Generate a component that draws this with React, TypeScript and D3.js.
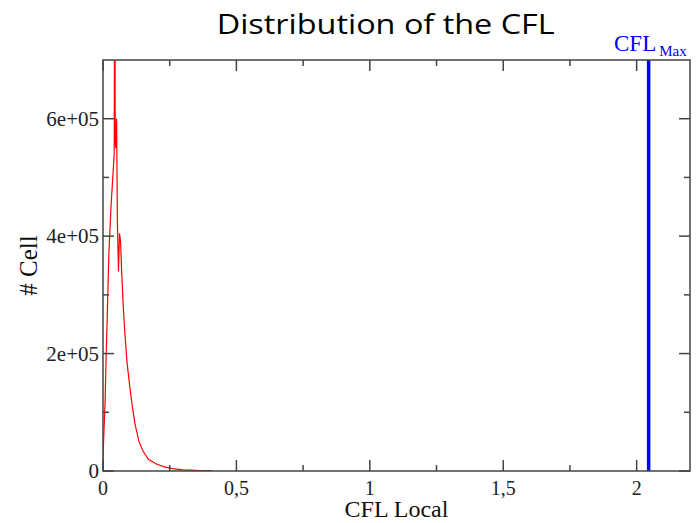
import React from "react";
import * as d3 from "d3";

const cflValues = [0, 0.001, 0.003, 0.008, 0.012, 0.016, 0.022, 0.03, 0.038, 0.042, 0.044, 0.046, 0.048, 0.051, 0.054, 0.058, 0.062, 0.066, 0.07, 0.076, 0.082, 0.09, 0.1, 0.11, 0.12, 0.135, 0.15, 0.17, 0.2, 0.23, 0.26, 0.3, 0.35, 0.41];
const cellCounts = [0, 35000, 60000, 120000, 200000, 265000, 370000, 450000, 510000, 540000, 900000, 560000, 550000, 600000, 420000, 340000, 405000, 390000, 340000, 280000, 235000, 185000, 145000, 110000, 80000, 50000, 34000, 20000, 12000, 7000, 4000, 2000, 1000, 500];
const cflMax = 2.045;

const xMajorTicks = [0, 0.5, 1, 1.5, 2];
const xTickLabels = ["0", "0,5", "1", "1,5", "2"];
const xMinorTicks = [0.25, 0.75, 1.25, 1.75];
const yMajorTicks = [0, 200000, 400000, 600000];
const yTickLabels = ["0", "2e+05", "4e+05", "6e+05"];
const yMinorTicks = [100000, 300000, 500000];

const W = 699, H = 523;
const L = 103, R = 690, T = 60, B = 471;

export default function App() {
  const x = d3.scaleLinear().domain([0, 2.2]).range([L, R]);
  const y = d3.scaleLinear().domain([0, 700000]).range([B, T]);
  const pts: [number, number][] = cflValues.map((v, i) => [v, cellCounts[i]]);
  const line = d3.line<[number, number]>().x(d => x(d[0])).y(d => y(d[1]));
  const serif = "'Liberation Serif', 'Times New Roman', serif";
  const axisColor = "#444";
  const major = 11, minor = 6;
  return (
    <svg width={W} height={H} style={{ position: "absolute", left: 0, top: 0, background: "#fff" }}>
      <defs>
        <clipPath id="plot"><rect x={L} y={T} width={R - L} height={B - T} /></clipPath>
      </defs>
      <rect x={0} y={0} width={W} height={H} fill="#fff" />
      <text x={385.7} y={34} textAnchor="middle" fontFamily="'Open Sans', 'Noto Sans', sans-serif" fontSize={28} fill="#000" textLength={338} lengthAdjust="spacingAndGlyphs">Distribution of the CFL</text>
      <path d={line(pts) || ""} fill="none" stroke="#ff0000" strokeWidth={1.2} clipPath="url(#plot)" />
      <line x1={x(cflMax)} x2={x(cflMax)} y1={T} y2={B} stroke="#0000ff" strokeWidth={3.5} />
      <rect x={L} y={T} width={R - L} height={B - T} fill="none" stroke={axisColor} strokeWidth={1.5} />
      {xMajorTicks.map(t => (
        <g key={"xM" + t}>
          <line x1={x(t)} x2={x(t)} y1={B} y2={B - major} stroke={axisColor} strokeWidth={1.5} />
          <line x1={x(t)} x2={x(t)} y1={T} y2={T + major} stroke={axisColor} strokeWidth={1.5} />
        </g>
      ))}
      {xMinorTicks.map(t => (
        <g key={"xm" + t}>
          <line x1={x(t)} x2={x(t)} y1={B} y2={B - minor} stroke={axisColor} strokeWidth={1.5} />
          <line x1={x(t)} x2={x(t)} y1={T} y2={T + minor} stroke={axisColor} strokeWidth={1.5} />
        </g>
      ))}
      {yMajorTicks.map(t => (
        <g key={"yM" + t}>
          <line x1={L} x2={L + major} y1={y(t)} y2={y(t)} stroke={axisColor} strokeWidth={1.5} />
          <line x1={R} x2={R - major} y1={y(t)} y2={y(t)} stroke={axisColor} strokeWidth={1.5} />
        </g>
      ))}
      {yMinorTicks.map(t => (
        <g key={"ym" + t}>
          <line x1={L} x2={L + minor} y1={y(t)} y2={y(t)} stroke={axisColor} strokeWidth={1.5} />
          <line x1={R} x2={R - minor} y1={y(t)} y2={y(t)} stroke={axisColor} strokeWidth={1.5} />
        </g>
      ))}
      {xMajorTicks.map((t, i) => (
        <text key={"xl" + t} x={x(t)} y={495} textAnchor="middle" fontFamily={serif} fontSize={20} fill="#222">{xTickLabels[i]}</text>
      ))}
      {yMajorTicks.map((t, i) => (
        <text key={"yl" + t} x={L - 4} y={y(t) + 7} textAnchor="end" fontFamily={serif} fontSize={21} fill="#222">{yTickLabels[i]}</text>
      ))}
      <text x={(L + R) / 2} y={517} textAnchor="middle" fontFamily={serif} fontSize={24} fill="#111">CFL Local</text>
      <text transform={`translate(37,${(T + B) / 2}) rotate(-90)`} textAnchor="middle" fontFamily={serif} fontSize={25} fill="#111"># Cell</text>
      <text x={614} y={51} fontFamily={serif} fontSize={23} fill="#0000ff">CFL<tspan dx={3} dy={5} fontSize={15}>Max</tspan></text>
    </svg>
  );
}
